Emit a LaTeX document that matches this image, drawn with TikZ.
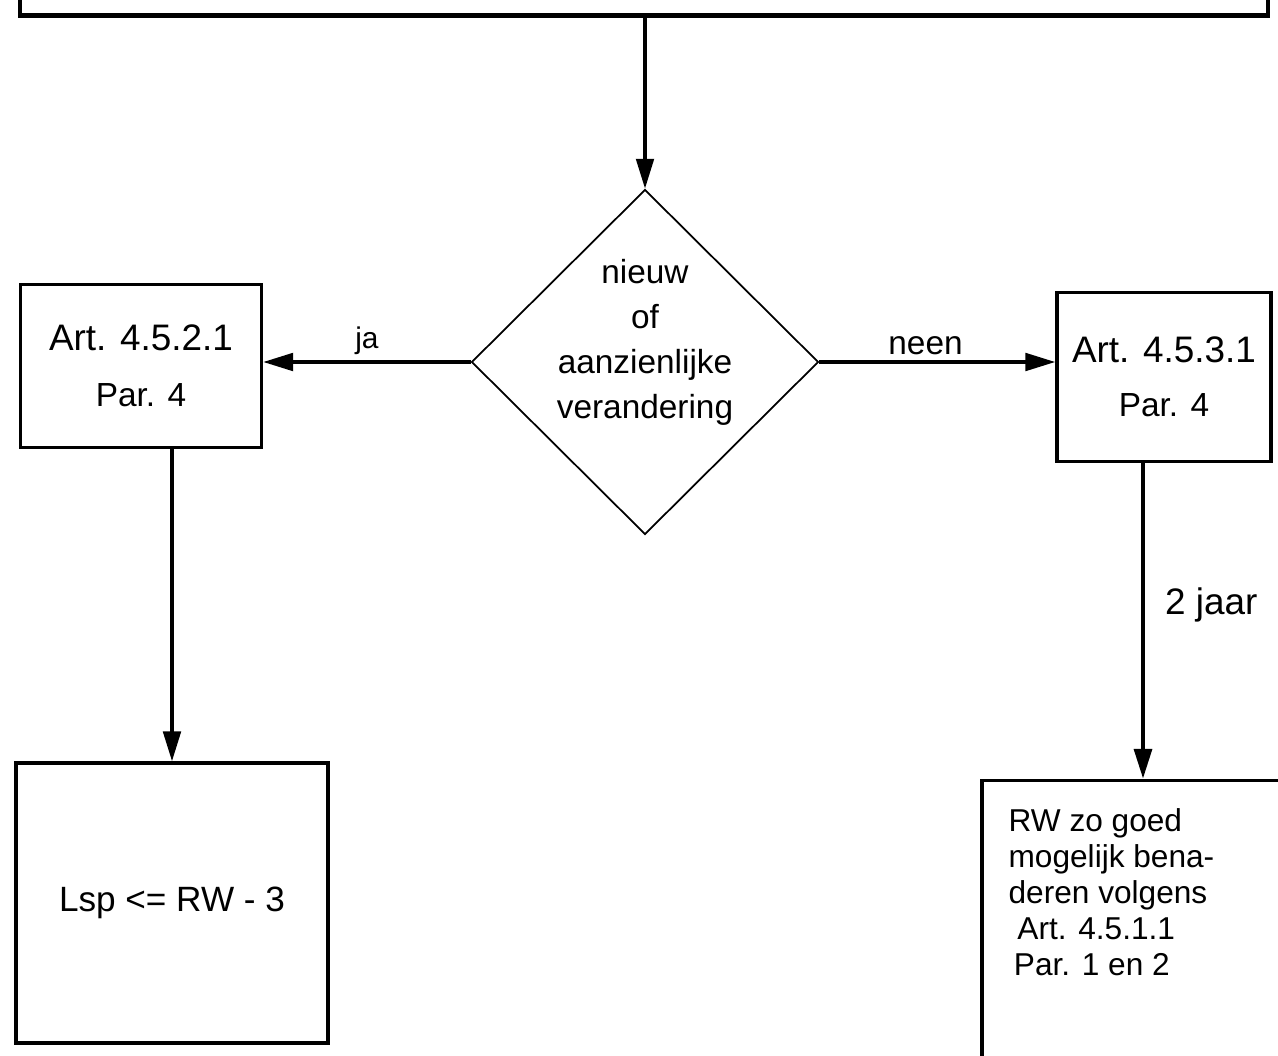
\documentclass[tikz,border=0pt]{standalone}
\usepackage{fontspec}
\setmainfont{Liberation Sans}
\usetikzlibrary{
  arrows.meta,
  shapes.geometric,
  calc
}

\begin{document}
\begin{tikzpicture}[
  x=0.02cm, y=-0.02cm,
  every node/.style={font=\fontsize{19}{23}\selectfont},
  kader/.style={draw, line width=2pt, inner sep=0pt},
  keuze/.style={draw, diamond, line width=1pt, minimum width=6.94cm,
                minimum height=6.9cm, inner sep=0pt},
  pijl/.style={->, line width=1.9pt},
  >={Triangle[length=17pt, width=10pt]}
]
\fill[white] (0,0) rectangle (1278,1055);
\clip (0,0) rectangle (1278,1055);

\node[kader, line width=2.4pt, minimum width=24.96cm, minimum height=1.9cm] (top) at (644,-32) {};

\node[keuze] (keuze) at (645,362) {};
\node[align=center, font=\fontsize{19}{25.6}\selectfont] (vraag) at (645,342)
  {nieuw\\of\\aanzienlijke\\verandering};

\node[kader, minimum width=4.82cm, minimum height=3.26cm, align=center] (art4521) at (141,366)
  {{\fontsize{21}{25}\selectfont Art. 4.5.2.1}\\[9pt]Par. 4};
\node[kader, minimum width=4.28cm, minimum height=3.38cm, align=center] (art4531) at (1164,377)
  {{\fontsize{21}{25}\selectfont Art. 4.5.3.1}\\[8pt]Par. 4};

\node[kader, minimum width=6.24cm, minimum height=5.6cm] (lsp) at (172,903)
  {\fontsize{20}{24}\selectfont Lsp <= RW - 3};
\node[kader, minimum width=6.44cm, minimum height=5.98cm] (rw) at (1143,930) {};
\node[anchor=north west, inner sep=0pt, align=left, font=\fontsize{18}{20.5}\selectfont] (rwtekst)
  at ($(rw.north west)+(28,29)$)
  {RW zo goed\\mogelijk bena-\\deren volgens\\\hspace*{5pt}Art. 4.5.1.1\\\hspace*{3pt}Par. 1 en 2};

% verbindingen
\draw[pijl] (top.south -| keuze.north) -- (keuze.north);
\draw[pijl] (keuze.west) -- (keuze.west -| art4521.east)
  node[midway, above, font=\fontsize{17}{20}\selectfont] (ja) {ja};
\draw[pijl] (keuze.east) -- (keuze.east -| art4531.west)
  node[pos=0.45, above] (neen) {neen};
\draw[pijl] (art4521.south -| lsp.north) -- (lsp.north);
\draw[pijl, line width=2.5pt] (art4531.south -| rw.north) -- (rw.north)
  node[pos=0.45, right=8pt, font=\fontsize{21}{25}\selectfont] (jaar) {2 jaar};

\end{tikzpicture}
\end{document}
